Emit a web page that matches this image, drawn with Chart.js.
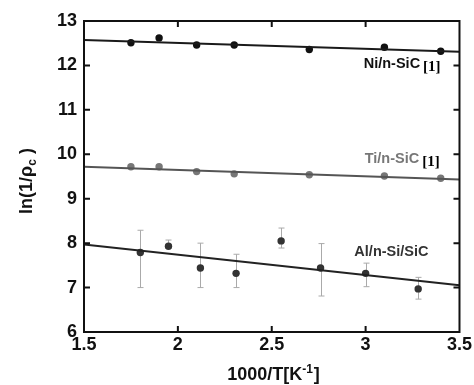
<!DOCTYPE html>
<html>
<head>
<meta charset="utf-8">
<script src="https://cdn.jsdelivr.net/npm/chart.js@4/dist/chart.umd.min.js"></script>
<style>
  html, body { margin: 0; padding: 0; background: #fff; }
  #chart { display: block; }
</style>
</head>
<body>
<canvas id="chart" width="474" height="385"></canvas>
<script>
// Ni/n-SiC [1]
var niX = [1.75, 1.9, 2.1, 2.3, 2.7, 3.1, 3.4];
var niY = [12.51, 12.62, 12.46, 12.46, 12.36, 12.41, 12.32];
var niFit = [12.57, 12.31]; // at x = 1.5 and 3.5

// Ti/n-SiC [1]
var tiX = [1.75, 1.9, 2.1, 2.3, 2.7, 3.1, 3.4];
var tiY = [9.72, 9.72, 9.61, 9.56, 9.54, 9.51, 9.46];
var tiFit = [9.72, 9.43];

// Al/n-Si/SiC, with error bars
var alX = [1.8, 1.95, 2.12, 2.31, 2.55, 2.76, 3.0, 3.28];
var alY = [7.79, 7.93, 7.44, 7.32, 8.05, 7.44, 7.32, 6.97];
var alLow = [7.0, 7.88, 7.0, 7.0, 7.89, 6.81, 7.02, 6.74];
var alHigh = [8.29, 8.07, 8.0, 7.75, 8.34, 7.99, 7.55, 7.23];
var alFit = [7.97, 7.05];

var fitX = [1.5, 3.5];
var xTicks = [1.5, 2, 2.5, 3, 3.5];
var yTicks = [6, 7, 8, 9, 10, 11, 12, 13];

var FONT = "'Liberation Sans', Arial, sans-serif";

function pts(xs, ys) {
    return xs.map(function (x, i) { return { x: x, y: ys[i] }; });
}

// error bars for the Al series, drawn under the points
var errorBars = {
    id: "errorBars",
    beforeDatasetsDraw: function (chart) {
        var ctx = chart.ctx,
            xs = chart.scales.x,
            ys = chart.scales.y;
        ctx.save();
        ctx.strokeStyle = "#aaaaaa";
        ctx.lineWidth = 1;
        for (let i = 0; i < alX.length; i++) {
            let px = Math.round(xs.getPixelForValue(alX[i])) + 0.5,
                top = ys.getPixelForValue(alHigh[i]),
                bot = ys.getPixelForValue(alLow[i]);
            ctx.beginPath();
            ctx.moveTo(px, top);
            ctx.lineTo(px, bot);
            ctx.moveTo(px - 3, top);
            ctx.lineTo(px + 3, top);
            ctx.moveTo(px - 3, bot);
            ctx.lineTo(px + 3, bot);
            ctx.stroke();
        }
        ctx.restore();
    }
};

// frame, inward ticks, axis titles and series labels
var decorations = {
    id: "decorations",
    afterDraw: function (chart) {
        var ctx = chart.ctx,
            a = chart.chartArea,
            xs = chart.scales.x,
            ys = chart.scales.y,
            tl = 6;
        ctx.save();
        ctx.strokeStyle = "#111";
        ctx.lineWidth = 2;
        ctx.strokeRect(a.left, a.top, a.right - a.left, a.bottom - a.top);
        ctx.beginPath();
        xTicks.slice(1, -1).forEach(function (v) {
            var px = xs.getPixelForValue(v);
            ctx.moveTo(px, a.bottom);
            ctx.lineTo(px, a.bottom - tl);
            ctx.moveTo(px, a.top);
            ctx.lineTo(px, a.top + tl);
        });
        yTicks.slice(1, -1).forEach(function (v) {
            var py = ys.getPixelForValue(v);
            ctx.moveTo(a.left, py);
            ctx.lineTo(a.left + tl, py);
            ctx.moveTo(a.right, py);
            ctx.lineTo(a.right - tl, py);
        });
        ctx.stroke();

        // x title with superscript
        ctx.fillStyle = "#111";
        ctx.textBaseline = "alphabetic";
        var big = "bold 18px " + FONT, small = "bold 12px " + FONT;
        var p1 = "1000/T[K", p2 = "-1", p3 = "]";
        ctx.font = big;
        var w1 = ctx.measureText(p1).width, w3 = ctx.measureText(p3).width;
        ctx.font = small;
        var w2 = ctx.measureText(p2).width;
        var x0 = 273 - (w1 + w2 + w3) / 2, by = 380;
        ctx.font = big;
        ctx.fillText(p1, x0, by);
        ctx.font = small;
        ctx.fillText(p2, x0 + w1, by - 7);
        ctx.font = big;
        ctx.fillText(p3, x0 + w1 + w2 + 1, by);

        // y title with subscript, rotated
        ctx.save();
        ctx.translate(32, 181);
        ctx.rotate(-Math.PI / 2);
        var q1 = "ln(1/ρ", q2 = "c", q3 = " )";
        ctx.font = big;
        var v1 = ctx.measureText(q1).width, v3 = ctx.measureText(q3).width;
        ctx.font = small;
        var v2 = ctx.measureText(q2).width;
        var y0 = -(v1 + v2 + v3) / 2;
        ctx.font = big;
        ctx.fillText(q1, y0, 0);
        ctx.font = small;
        ctx.fillText(q2, y0 + v1, 4);
        ctx.font = big;
        ctx.fillText(q3, y0 + v1 + v2, 0);
        ctx.restore();

        // series labels
        var labels = [
            { text: "Ni/n-SiC", ref: "[1]", x: 2.99, y: 12.03, color: "#111" },
            { text: "Ti/n-SiC", ref: "[1]", x: 2.995, y: 9.89, color: "#777" },
            { text: "Al/n-Si/SiC", ref: "", x: 2.94, y: 7.8, color: "#333" }
        ];
        ctx.textBaseline = "middle";
        labels.forEach(function (l) {
            var lx = xs.getPixelForValue(l.x),
                ly = ys.getPixelForValue(l.y);
            ctx.font = "bold 14.5px " + FONT;
            ctx.fillStyle = l.color;
            ctx.fillText(l.text, lx, ly);
            if (l.ref) {
                var tw = ctx.measureText(l.text).width;
                ctx.font = "bold 15px 'Liberation Serif', serif";
                ctx.fillStyle = "#000";
                ctx.fillText(l.ref, lx + tw + 3, ly + 3);
            }
        });
        ctx.restore();
    }
};

new Chart(document.getElementById("chart"), {
    type: "scatter",
    data: {
        datasets: [
            { data: pts(fitX, niFit), showLine: true, borderColor: "#1a1a1a", borderWidth: 2, pointRadius: 0 },
            { data: pts(fitX, tiFit), showLine: true, borderColor: "#555", borderWidth: 2, pointRadius: 0 },
            { data: pts(fitX, alFit), showLine: true, borderColor: "#222", borderWidth: 2, pointRadius: 0 },
            { data: pts(niX, niY), backgroundColor: "#111", borderWidth: 0, pointRadius: 3.7 },
            { data: pts(tiX, tiY), backgroundColor: "#777", borderWidth: 0, pointRadius: 3.7 },
            { data: pts(alX, alY), backgroundColor: "#333", borderWidth: 0, pointRadius: 3.7 }
        ]
    },
    options: {
        responsive: false,
        animation: false,
        events: [],
        layout: { padding: { top: 21, right: 13, left: 0, bottom: 0 } },
        plugins: { legend: { display: false }, tooltip: { enabled: false } },
        scales: {
            x: {
                type: "linear",
                min: 1.5,
                max: 3.5,
                afterFit: function (s) { s.height = 53; },
                afterBuildTicks: function (s) { s.ticks = xTicks.map(function (v) { return { value: v }; }); },
                grid: { display: false, drawTicks: false },
                border: { display: false },
                ticks: {
                    autoSkip: false,
                    maxRotation: 0,
                    padding: 2,
                    color: "#111",
                    font: { family: FONT, size: 18, weight: "bold" },
                    callback: function (v) { return String(v); }
                }
            },
            y: {
                type: "linear",
                min: 6,
                max: 13,
                afterFit: function (s) { s.width = 84; },
                afterBuildTicks: function (s) { s.ticks = yTicks.map(function (v) { return { value: v }; }); },
                grid: { display: false, drawTicks: false },
                border: { display: false },
                ticks: {
                    autoSkip: false,
                    padding: 7,
                    color: "#111",
                    font: { family: FONT, size: 18, weight: "bold" },
                    callback: function (v) { return String(v); }
                }
            }
        }
    },
    plugins: [errorBars, decorations]
});
</script>
</body>
</html>
